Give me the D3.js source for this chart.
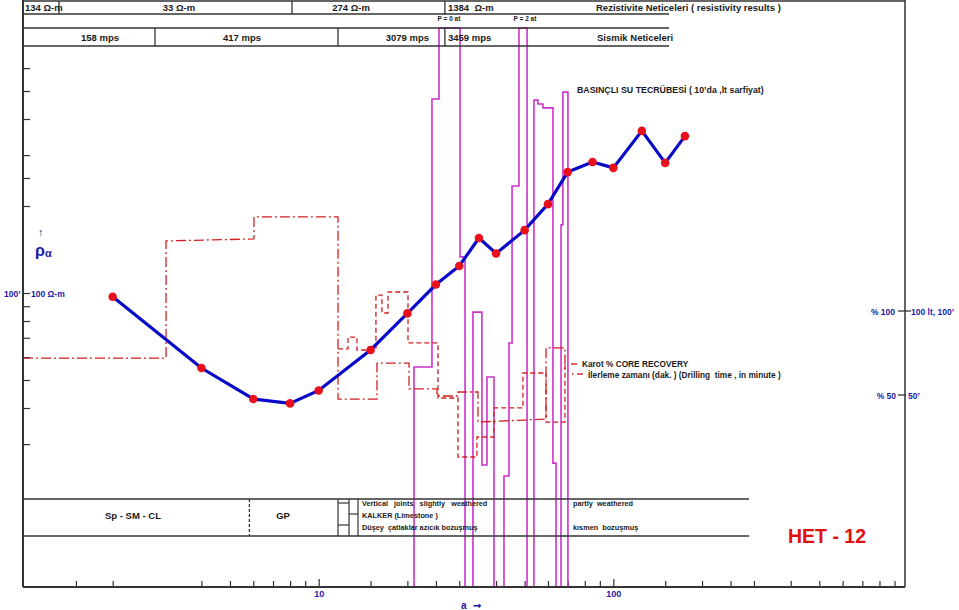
<!DOCTYPE html>
<html><head><meta charset="utf-8">
<script src="https://cdn.jsdelivr.net/npm/d3@7/dist/d3.min.js"></script>
<style>
body{margin:0;background:#fff;}
text{font-family:"Liberation Sans",Arial,sans-serif;font-weight:bold;white-space:pre;}
</style></head>
<body>
<svg id="c" width="959" height="610"></svg>
<script>
// ---------- DATA ----------
// Apparent resistivity sounding curve (AB/2 in m, rho_a in ohm-m)
const abHalf = [2,4,6,8,10,15,20,25,30,35,40,50,60,70,85,100,125,150,175];
const rhoA   = [97,55,43,41.5,46,63.5,85,107,124,155,137,165,203,262,284,271,364,282,349];

// Drilling time (minutes) vs depth (m)
const drillDepth = [0,9.73,9.73,15.71,15.71,21.43,21.43,24.08,24.08,26.26,26.26,28.16,28.16,29.59,29.59,30.95,30.95,34.15,35.58,35.58,36.87,36.87];
const drillTime  = [72,72,141.7,142.9,156,156,47.6,47.6,69,69,53.6,53.6,49.4,49.4,51.8,51.8,33.9,35.1,35.7,78,78,64.9];

// Core recovery (%) vs depth (m)
const coreDepth = [21.43,22.11,22.11,22.72,22.72,24.01,24.01,24.42,24.42,24.83,24.83,26.19,26.19,28.23,28.23,29.59,29.59,30.88,30.88,32.04,32.04,34.01,34.01,35.58,35.58,36.87,36.87];
const coreRec   = [77.4,77.4,84.5,84.5,76.8,76.8,109.5,109.5,98.8,98.8,111.3,111.3,81,81,48.2,48.2,13.1,13.1,25,25,42.3,42.3,63.1,63.1,33.9,33.9,67.9];

// Pressure water test (lt loss) vs depth (m)
const waterDepth = [26.60,26.60,27.82,27.82,28.30,28.30,29.73,29.73,30.07,30.07,30.61,30.61,31.22,31.22,31.56,31.56,32.04,32.04,32.72,32.72,33.06,33.06,33.27,33.27,33.74,33.74,34.29,34.29,34.76,34.76,35.03,35.03,35.37,35.37,36.05,36.05,36.26,36.26,36.60,36.60,36.73,36.73,37.07,37.07];
const waterLoss  = [0,79.7,79.7,176.8,176.8,202.5,202.5,119.6,119.6,0,0,99.6,99.6,44.2,44.2,76.1,76.1,0,0,40.2,40.2,88.4,88.4,145.3,145.3,202.5,202.5,0,0,176.4,176.4,175,175,173.6,173.6,44.9,44.9,0,0,131.2,131.2,179.3,179.3,0];

// Header layers (depth boundaries in m) and labels
const resBounds = [2.45, 18.3, 28.7];
const resLabels = ["134 Ω-m","33 Ω-m","274 Ω-m","1384  Ω-m"];
const seisBounds = [8.98, 21.43, 28.7];
const seisLabels = ["158 mps","417 mps","3079 mps","3459 mps"];
const soilBound = 15.4;
const rockStart = 21.43;

// Axis ticks
const xTicks = [1.5,2,4,5,6,7,8,9,10,15,20,25,30,40,50,60,70,80,90,100,150,200,250,300,400,500,600,700,800,900];
const xLabels = [10,100];
const yTicks = [30,40,50,60,70,80,90,100,200,250,300,400,500,600];

// ---------- SCALES ----------
const svg = d3.select("#c");
const L = 23, R = 905, T = 1, B = 587;
const x = d3.scaleLog().domain([1,1000]).range([24,908]);
const y = d3.scaleLog().domain([100,1000]).range([293,4]);
const xD = d3.scaleLinear().domain([0,60]).range([23,905]);
const yPct = d3.scaleLinear().domain([0,100]).range([479,311]);
const yLt = d3.scaleLinear().domain([0,100]).range([587,311]);

const blue = "#1a1aa8", red = "#d42020", mag = "#cc33cc", blk = "#333";

// ---------- AXES ----------
const gx = svg.append("g").attr("transform",`translate(0,${B})`)
  .call(d3.axisBottom(x).tickValues(xTicks)
    .tickSize(-6).tickPadding(4)
    .tickFormat(d => xLabels.includes(d) ? d : ""));
gx.select(".domain").remove();
gx.selectAll(".tick line").attr("stroke",blk).attr("stroke-width",1.2)
  .attr("y2", d => xLabels.includes(d) ? -8 : -6);
gx.selectAll(".tick text").attr("fill",blue).attr("font-size",9).attr("font-weight","bold")
  .attr("font-family","Liberation Sans, Arial, sans-serif");

const gy = svg.append("g").attr("transform",`translate(${L},0)`)
  .call(d3.axisRight(y).tickValues(yTicks).tickSize(7).tickFormat(""));
gy.select(".domain").remove();
gy.selectAll(".tick line").attr("stroke",blk).attr("stroke-width",1.2);

// ---------- WATER TEST (magenta) ----------
const water = waterDepth.map((d,i)=>[d,waterLoss[i]]);
svg.append("path").datum(water)
  .attr("d", d3.line().x(d=>xD(d[0])).y(d=>yLt(d[1])))
  .attr("fill","none").attr("stroke",mag).attr("stroke-width",1.6);

// ---------- DRILLING / CORE ----------
const drill = drillDepth.map((d,i)=>[d,drillTime[i]]);
const core = coreDepth.map((d,i)=>[d,coreRec[i]]);
const lp = d3.line().x(d=>xD(d[0])).y(d=>yPct(d[1]));
svg.append("path").datum(drill).attr("d",lp).attr("fill","none")
  .attr("stroke",red).attr("stroke-width",1.3).attr("stroke-dasharray","10,3,2,3");
svg.append("path").datum(core).attr("d",lp).attr("fill","none")
  .attr("stroke",red).attr("stroke-width",1.3).attr("stroke-dasharray","5,3");

// ---------- SOUNDING CURVE ----------
const pts = abHalf.map((d,i)=>[d,rhoA[i]]);
svg.append("path").datum(pts)
  .attr("d", d3.line().x(d=>x(d[0])).y(d=>y(d[1])))
  .attr("fill","none").attr("stroke","#0808c8").attr("stroke-width",3.2);
svg.selectAll("circle.p").data(pts).join("circle")
  .attr("cx",d=>x(d[0])).attr("cy",d=>y(d[1])).attr("r",4.3).attr("fill","#e8101c");

// ---------- FRAME ----------
const ln = (x1,y1,x2,y2,w=1.5,c=blk,da=null)=>{
  const l = svg.append("line").attr("x1",x1).attr("y1",y1).attr("x2",x2).attr("y2",y2)
    .attr("stroke",c).attr("stroke-width",w);
  if(da) l.attr("stroke-dasharray",da);
  return l;
};
const hdrR = 669;
ln(L,T,R,T);
ln(L,0,L,B,2);
ln(R,0,R,B,1.5);
ln(L,B,R,B,2);
ln(L,14,hdrR,14);
ln(L,28,hdrR,28);
ln(L,46,hdrR,46);
resBounds.forEach(b=>ln(xD(b),T,xD(b),14,1.3));
seisBounds.forEach(b=>ln(xD(b),28,xD(b),46,1.3));

// header text
const txt = (s,tx,ty,opt={})=>svg.append("text").attr("x",tx).attr("y",ty)
  .attr("font-size",opt.size||9.5).attr("fill",opt.fill||"#1a1a1a")
  .attr("text-anchor",opt.anchor||"start").text(s);
txt(resLabels[0],25,11);
txt(resLabels[1],179,11,{anchor:"middle"});
txt(resLabels[2],351,11,{anchor:"middle"});
txt(resLabels[3],448,11);
txt("Rezistivite Neticeleri ( resistivity results )",596,11);
txt("P = 0 at",449,21,{size:6.5,anchor:"middle"});
txt("P = 2 at",525,21,{size:6.5,anchor:"middle"});
txt(seisLabels[0],100,41,{anchor:"middle"});
txt(seisLabels[1],242,41,{anchor:"middle"});
txt(seisLabels[2],429,41,{anchor:"end"});
txt(seisLabels[3],448,41);
txt("Sismik Neticeleri",597,41);
txt("BASINÇLI SU TECRÜBESİ ( 10’da ,lt sarfiyat)",577,93,{size:8.8});

// left labels
txt("↑",38,236,{size:11,fill:blue});
svg.append("text").attr("x",35).attr("y",256).attr("fill",blue).attr("font-size",16)
  .attr("font-weight","normal").text("ρ")
  .append("tspan").attr("font-size",11).attr("dy",1).text("α");
txt("100’",4,297,{size:8.5,fill:blue});
txt("100 Ω-m",31,297,{size:8.5,fill:blue});

// right labels
ln(898,yPct(100),911,yPct(100),1.3);
ln(898,yPct(50),906,yPct(50),1.3);
txt("% 100",895,315,{size:8.5,fill:blue,anchor:"end"});
txt("100 lt, 100’",911,315,{size:8.5,fill:blue});
txt("% 50",896,399,{size:8.5,fill:blue,anchor:"end"});
txt("50’",908,399,{size:8.5,fill:blue});

// legend
ln(571,364,577,364,1.4,red);
ln(572,374,573.5,374,1.4,red);
ln(577,374,583,374,1.4,red);
txt("Karot % CORE RECOVERY",582,367,{size:8.3});
txt("İlerleme zamanı (dak. ) (Drilling  time , in minute )",588,378,{size:8.3});

// ---------- SOIL TABLE ----------
const soilR = 749;
ln(L,499,soilR,499,1.5);
ln(L,536,soilR,536,1.5);
ln(xD(soilBound),499,xD(soilBound),536,1.3,blk,"3,2");
const rx = xD(rockStart);
ln(rx,499,rx,536,1.2); ln(rx+11,499,rx+11,536,1.2); ln(rx+20,499,rx+20,536,1.2);
ln(rx,503,rx+11,503,1.2); ln(rx+11,514,rx+20,514,1.2); ln(rx,525,rx+11,525,1.2);
txt("Sp - SM - CL",133,519,{size:9.5,anchor:"middle"});
txt("GP",283,519,{size:9.5,anchor:"middle"});
txt("Vertical   joints   slightly   weathered",362,506,{size:7.3});
txt("KALKER (Limestone )",362,518,{size:7.3});
txt("Düşey  çatlaklar azıcık bozuşmuş",362,530,{size:7.3});
txt("partly  weathered",573,506,{size:7.3});
txt("kısmen  bozuşmuş",573,530,{size:7.3});
txt("HET - 12",827,543,{size:19.5,fill:"#e01010",anchor:"middle"});

// bottom label
txt("a",461,609,{size:10,fill:blue});
txt("➞",473,609,{size:10,fill:blue});
</script>
</body></html>
